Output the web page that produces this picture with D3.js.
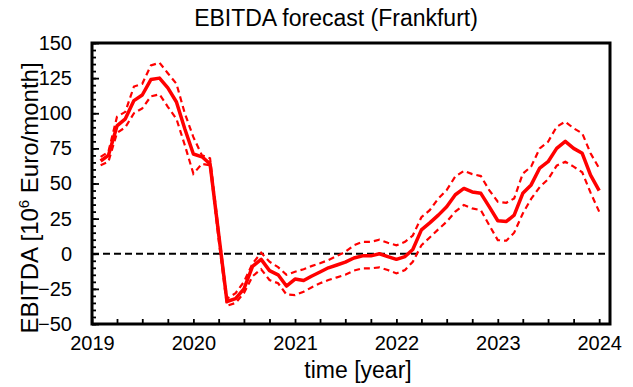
<!DOCTYPE html>
<html>
<head>
<meta charset="utf-8">
<script src="https://cdn.jsdelivr.net/npm/d3@7"></script>
<style>
  html, body { margin: 0; padding: 0; background: #fff; }
  svg { display: block; font-family: "Liberation Sans", Arial, sans-serif; }
</style>
</head>
<body>
<svg id="chart" width="633" height="387"></svg>
<script>
// Monthly points, Feb 2019 .. Jan 2024
const months = d3.timeMonth.range(new Date(2019, 1, 1), new Date(2024, 0, 2));

const forecast = [66, 70, 91, 96, 109, 113, 124, 125, 118, 108, 89, 71,
  69, 64, 14, -34, -32, -25, -9, -4, -12, -15, -23, -18,
  -19, -16, -13, -10, -8, -6, -3, -1.5, -1.5, 0, -2, -4,
  -2, 3, 17, 22, 27.5, 33.5, 42, 46.5, 44, 43, 33.5, 23.5,
  23, 27.5, 43, 49, 61, 65.5, 75, 80, 75, 71.5, 56, 45];

const upper = [69, 72.5, 97.5, 101, 119, 121, 134, 136, 128.5, 121, 100, 83,
  70, 68, 16, -32, -28, -20, -7, 0.7, -5.7, -9.5, -15, -12.8,
  -11, -8.8, -6.8, -4.5, -1.6, 1.4, 6, 8.5, 8.5, 10, 7.8, 6,
  8.5, 13, 26, 31, 39.4, 45.3, 55, 59, 56.7, 55.3, 45.3, 37,
  36.3, 39.4, 57, 62, 75, 79.7, 90.4, 94, 89.3, 85.7, 71.5, 60.8];

const lower = [63, 65.5, 86, 90, 100, 103.5, 112, 113.5, 104.6, 96, 77.4, 57,
  64, 63, 10, -37, -35, -28, -16, -11, -18.7, -21, -29, -29.4,
  -27, -24, -21, -18.7, -16.8, -15, -12, -10.4, -10.4, -9.7, -11.6, -14,
  -11.6, -5.7, 6, 11.6, 17.4, 22.8, 30, 34.7, 32.3, 31, 20.4, 9.7,
  9.3, 15, 28.7, 39, 47.5, 53, 62.7, 65.5, 62, 58, 43.5, 30];

const yTicks = [-50, -25, 0, 25, 50, 75, 100, 125, 150];
const yMinorTicks = d3.range(-50, 151, 5);
const xTickYears = [2019, 2020, 2021, 2022, 2023, 2024];

const title = "EBITDA forecast (Frankfurt)";
const xTitle = "time [year]";

const svg = d3.select("#chart");
const L = 92, R = 610, T = 43, B = 324;

const x = d3.scaleTime()
  .domain([new Date(2019, 0, 1), new Date(2024, 1, 9)])
  .range([L, R]);
const y = d3.scaleLinear().domain([-50, 150]).range([B, T]);

const red = "#ff0000";

// zero line
svg.append("line")
  .attr("x1", L).attr("x2", R)
  .attr("y1", y(0)).attr("y2", y(0))
  .attr("stroke", "#000").attr("stroke-width", 2)
  .attr("stroke-dasharray", "7,4");

const line = d3.line().x((d, i) => x(months[i])).y(d => y(d));

svg.append("path").datum(upper)
  .attr("d", line).attr("fill", "none")
  .attr("stroke", red).attr("stroke-width", 2.2)
  .attr("stroke-dasharray", "6,4");
svg.append("path").datum(lower)
  .attr("d", line).attr("fill", "none")
  .attr("stroke", red).attr("stroke-width", 2.2)
  .attr("stroke-dasharray", "6,4");
svg.append("path").datum(forecast)
  .attr("d", line).attr("fill", "none")
  .attr("stroke", red).attr("stroke-width", 3.5)
  .attr("stroke-linejoin", "round");

// y axis minor ticks (inward)
const yMinor = d3.axisRight(y).tickValues(yMinorTicks).tickSize(4).tickFormat("");
svg.append("g").attr("transform", `translate(${L},0)`).call(yMinor)
  .call(g => g.select(".domain").remove())
  .call(g => g.selectAll("line").attr("stroke-width", 1.8));
// y axis major ticks (inward)
const yMajor = d3.axisRight(y).tickValues(yTicks).tickSize(7).tickFormat("");
svg.append("g").attr("transform", `translate(${L},0)`).call(yMajor)
  .call(g => g.select(".domain").remove())
  .call(g => g.selectAll("line").attr("stroke-width", 1.8));
// y labels
const yLab = d3.axisLeft(y).tickValues(yTicks).tickSize(0).tickPadding(20);
svg.append("g").attr("transform", `translate(${L},0)`).call(yLab)
  .call(g => g.select(".domain").remove())
  .call(g => g.selectAll("text").attr("font-size", 20)
    .attr("font-family", "Liberation Sans, Arial, sans-serif").attr("fill", "#000"));

// x ticks: quarters, inward
const xQuarter = d3.axisTop(x).ticks(d3.timeMonth.every(3)).tickSize(5).tickFormat("");
svg.append("g").attr("transform", `translate(0,${B})`).call(xQuarter)
  .call(g => g.select(".domain").remove())
  .call(g => g.selectAll("line").attr("stroke-width", 1.8));
// x labels
const xLab = d3.axisBottom(x).tickValues(xTickYears.map(v => new Date(v, 0, 1)))
  .tickSize(0).tickPadding(12).tickFormat(d3.timeFormat("%Y"));
svg.append("g").attr("transform", `translate(0,${B})`).call(xLab)
  .call(g => g.select(".domain").remove())
  .call(g => g.selectAll("text").attr("font-size", 20)
    .attr("font-family", "Liberation Sans, Arial, sans-serif").attr("fill", "#000"));

// frame
svg.append("rect")
  .attr("x", L).attr("y", T).attr("width", R - L).attr("height", B - T)
  .attr("fill", "none").attr("stroke", "#000").attr("stroke-width", 3);

// title
svg.append("text")
  .attr("x", 336).attr("y", 26)
  .attr("text-anchor", "middle").attr("font-size", 23)
  .text(title);

// x title
svg.append("text")
  .attr("x", 358).attr("y", 378)
  .attr("text-anchor", "middle").attr("font-size", 23)
  .text(xTitle);

// y title
const yt = svg.append("text")
  .attr("transform", "translate(38,198) rotate(-90)")
  .attr("text-anchor", "middle").attr("font-size", 24);
yt.append("tspan").text("EBITDA [10");
yt.append("tspan").attr("font-size", 15).attr("dy", -9).text("6");
yt.append("tspan").attr("dy", 9).text(" Euro/month]");
</script>
</body>
</html>
